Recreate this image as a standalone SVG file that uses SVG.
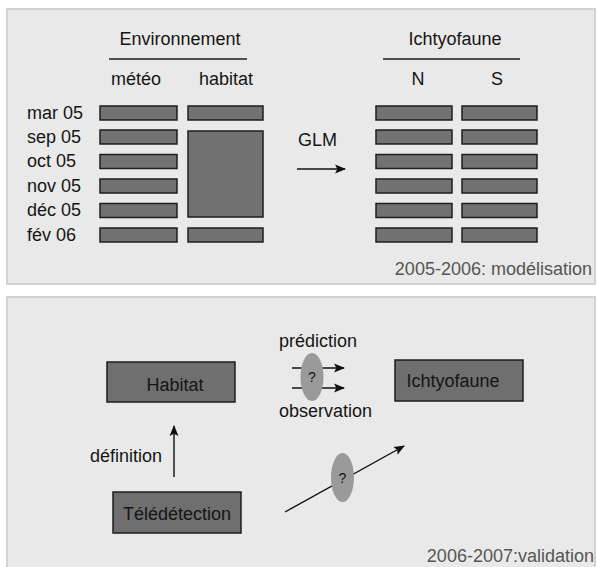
<svg xmlns="http://www.w3.org/2000/svg" width="597" height="567" viewBox="0 0 597 567">
<defs>
<marker id="ah" viewBox="0 0 10 10" refX="9" refY="5" markerWidth="11" markerHeight="11" markerUnits="userSpaceOnUse" orient="auto">
<path d="M0,1 L10,5 L0,9 L2,5 Z" fill="#111"/>
</marker>
<style>
text{font-family:"Liberation Sans",Arial,sans-serif;font-size:18px;fill:#151515}
.c{text-anchor:middle}
.yr{fill:#555}
.bar{fill:#727272;stroke:#1e1e1e;stroke-width:1.5}
.box{fill:#6f6f6f;stroke:#1e1e1e;stroke-width:1.5}
.ell{fill:#9a9a9a}
.q{font-size:14px;text-anchor:middle}
.ln{stroke:#1e1e1e;stroke-width:1.5;fill:none}
.arr{stroke:#111;stroke-width:1.4;fill:none;marker-end:url(#ah)}
.panel{fill:#e9e9e9;stroke:#d2d2d2;stroke-width:2}
</style>
</defs>
<rect width="597" height="567" fill="#fff"/>
<rect class="panel" x="7" y="9" width="588" height="275"/>
<rect class="panel" x="7" y="297" width="588" height="280"/>

<g id="top-headers">
<text class="c" x="180" y="45">Environnement</text>
<line class="ln" x1="109" y1="59" x2="247" y2="59"/>
<text class="c" x="136" y="85">météo</text>
<text class="c" x="226" y="85">habitat</text>
<text class="c" x="455" y="45">Ichtyofaune</text>
<line class="ln" x1="383" y1="59" x2="520" y2="59"/>
<text class="c" x="418" y="85">N</text>
<text class="c" x="497" y="85">S</text>
</g>

<g id="row-labels">
<text x="27" y="119">mar 05</text>
<text x="27" y="143">sep 05</text>
<text x="27" y="167">oct 05</text>
<text x="27" y="192">nov 05</text>
<text x="27" y="216">déc 05</text>
<text x="27" y="241">fév 06</text>
</g>

<g id="meteo-bars">
<rect class="bar" x="100" y="106" width="77" height="14"/>
<rect class="bar" x="100" y="130" width="77" height="14"/>
<rect class="bar" x="100" y="154.5" width="77" height="14"/>
<rect class="bar" x="100" y="179" width="77" height="14"/>
<rect class="bar" x="100" y="203.5" width="77" height="14"/>
<rect class="bar" x="100" y="228" width="77" height="14"/>
</g>
<g id="habitat-bars">
<rect class="bar" x="188" y="106" width="75" height="14"/>
<rect class="bar" x="188" y="131" width="75" height="86"/>
<rect class="bar" x="188" y="228" width="75" height="14"/>
</g>
<g id="N-bars">
<rect class="bar" x="376" y="106" width="76" height="14"/>
<rect class="bar" x="376" y="130" width="76" height="14"/>
<rect class="bar" x="376" y="154.5" width="76" height="14"/>
<rect class="bar" x="376" y="179" width="76" height="14"/>
<rect class="bar" x="376" y="203.5" width="76" height="14"/>
<rect class="bar" x="376" y="228" width="76" height="14"/>
</g>
<g id="S-bars">
<rect class="bar" x="462" y="106" width="75" height="14"/>
<rect class="bar" x="462" y="130" width="75" height="14"/>
<rect class="bar" x="462" y="154.5" width="75" height="14"/>
<rect class="bar" x="462" y="179" width="75" height="14"/>
<rect class="bar" x="462" y="203.5" width="75" height="14"/>
<rect class="bar" x="462" y="228" width="75" height="14"/>
</g>
<text x="298" y="146">GLM</text>
<text class="yr" x="592" y="275" text-anchor="end">2005-2006: modélisation</text>

<g id="habitat">
<rect class="box" x="107" y="362" width="128" height="40"/>
<text class="c" x="175" y="391">Habitat</text>
</g>
<g id="teledetection">
<rect class="box" x="113" y="492" width="128" height="41"/>
<text class="c" x="177" y="520">Télédétection</text>
</g>
<g id="ichtyofaune">
<rect class="box" x="395" y="360" width="128" height="41"/>
<text class="c" x="453" y="387">Ichtyofaune</text>
</g>

<g id="connectors">
<line class="arr" x1="297" y1="169" x2="345" y2="169"/>
<line class="arr" x1="174" y1="477" x2="174" y2="426"/>
<line class="arr" x1="292" y1="368" x2="344" y2="368"/>
<line class="arr" x1="292" y1="388" x2="344" y2="388"/>
<line class="arr" x1="285" y1="512" x2="404" y2="446"/>
</g>

<g id="q1">
<ellipse class="ell" cx="312" cy="377" rx="11.5" ry="24"/>
<text class="q" x="312" y="382">?</text>
</g>
<g id="q2">
<ellipse class="ell" cx="342.5" cy="477.5" rx="11.5" ry="24.5"/>
<text class="q" x="342.5" y="483">?</text>
</g>

<text x="279" y="347">prédiction</text>
<text x="279" y="417">observation</text>
<text x="90" y="462">définition</text>
<text class="yr" x="594" y="562" text-anchor="end">2006-2007:validation</text>
</svg>
